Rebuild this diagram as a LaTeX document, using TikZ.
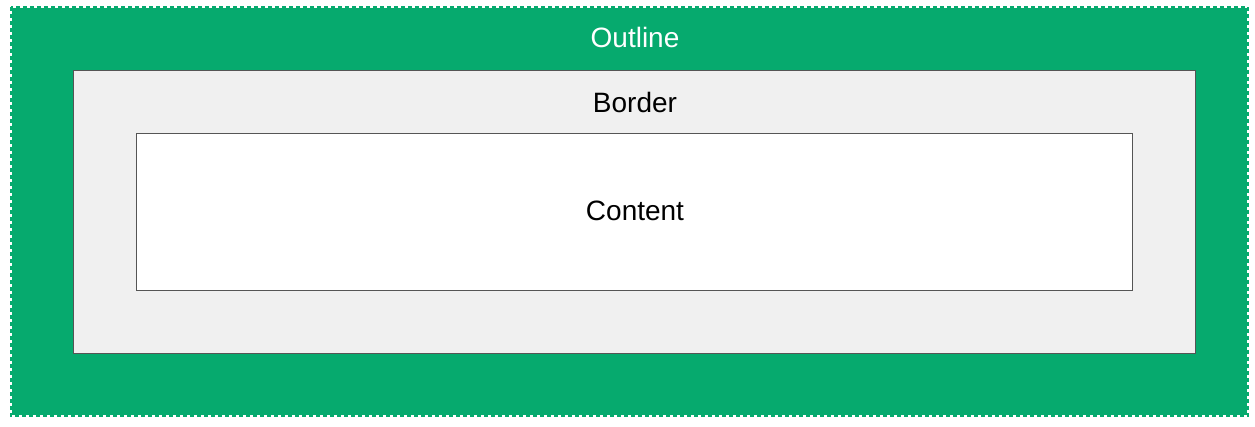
\documentclass[tikz,border=0pt]{standalone}
\usepackage{fontspec}
\setmainfont{Liberation Sans}
\definecolor{outgreen}{RGB}{6,170,110}
\definecolor{bordergray}{RGB}{240,240,240}
\definecolor{edgegray}{RGB}{85,85,85}
\begin{document}
\begin{tikzpicture}[x=1pt,y=-1pt,
  lbl/.style={font=\fontsize{28}{33}\selectfont, inner sep=0pt},
  box/.style={draw=edgegray, line width=0.9pt}]
\useasboundingbox (0,0) rectangle (1255,427);
\fill[outgreen] (12,8) rectangle (1247,415);
\draw[outgreen, line width=2pt, dash pattern=on 4pt off 3pt] (11,7) rectangle (1248,416);
\node[box, fill=bordergray, minimum width=1122pt, minimum height=283pt, inner sep=0pt] (border) at (634,211.5) {};
\node[box, fill=white, minimum width=996pt, minimum height=157pt, inner sep=0pt] (content) at (634,211.5) {};
\node[lbl, text=white] (outlinelbl) at (635,37) {Outline};
\node[lbl] (borderlbl) at (635,102) {Border};
\node[lbl] (contentlbl) at (635,211) {Content};
\end{tikzpicture}
\end{document}
